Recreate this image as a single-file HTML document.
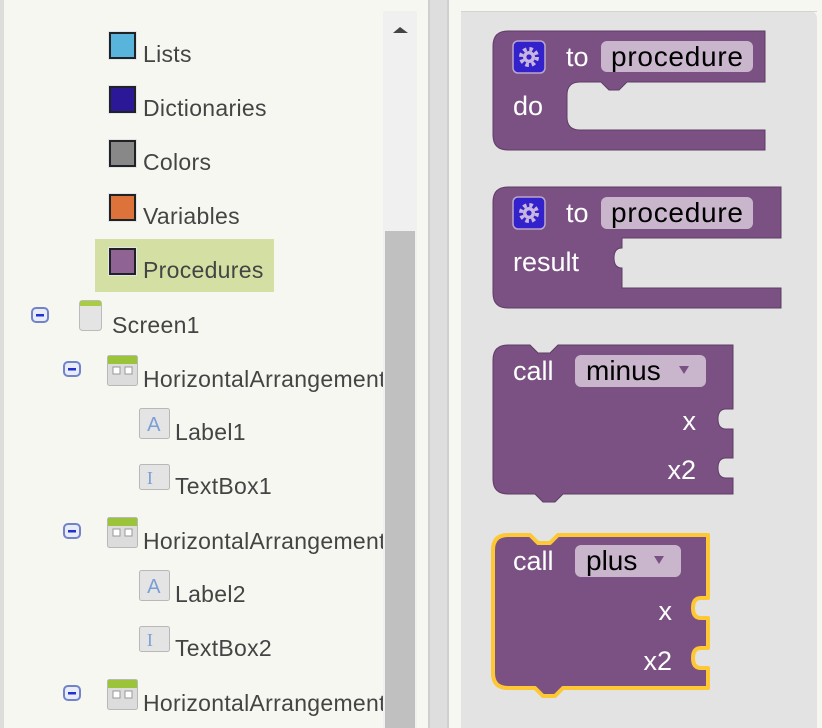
<!DOCTYPE html>
<html><head><meta charset="utf-8">
<style>
html,body{margin:0;padding:0;width:822px;height:728px;overflow:hidden;background:#f7f7f2;}
svg{display:block}
</style></head>
<body>
<svg width="822" height="728" xmlns="http://www.w3.org/2000/svg" font-family="Liberation Sans, Arial, sans-serif">
<defs>
<clipPath id="lc"><rect x="0" y="0" width="383" height="728"/></clipPath>
<g id="gear">
<rect x="0" y="0" width="32" height="32" rx="5" fill="#3322cc" stroke="#b9a6c9" stroke-width="1.5"/>
<circle cx="16" cy="16" r="8" fill="none" stroke="#c9b6e0" stroke-width="4" stroke-dasharray="3.5 2.8"/>
<circle cx="16" cy="16" r="6" fill="#c9b6e0"/>
<circle cx="16" cy="16" r="2.6" fill="#3322cc"/>
</g>
<g id="ha">
<rect x="0.5" y="0.5" width="30" height="30" rx="2" fill="#dcdcdc" stroke="#b8b8b8"/>
<rect x="1" y="1" width="29" height="8" fill="#9cc43a"/>
<rect x="6" y="12" width="7" height="7" fill="#fff" stroke="#999"/>
<rect x="18" y="12" width="7" height="7" fill="#fff" stroke="#999"/>
</g>
<g id="lab">
<rect x="0.5" y="0.5" width="30" height="30" rx="2" fill="#e4e4e4" stroke="#b8b8b8"/>
<text x="15" y="23" font-size="20" fill="#7a9fd6" text-anchor="middle">A</text>
</g>
<g id="tb">
<rect x="0.5" y="0.5" width="30" height="25" rx="2" fill="#e4e4e4" stroke="#b8b8b8"/>
<text x="11" y="20" font-size="18" fill="#7a9fd6" text-anchor="middle" font-family="Liberation Serif, serif">I</text>
</g>
<g id="minus">
<rect x="1" y="1" width="16" height="14" rx="4" fill="#e8ecf8" stroke="#7383c8" stroke-width="2"/>
<rect x="5" y="7" width="8" height="2.5" fill="#2233cc"/>
</g>
</defs>

<rect x="0" y="0" width="428" height="728" fill="#f7f7f2"/>
<rect x="0" y="0" width="4" height="728" fill="#dddddb"/>
<rect x="383" y="11" width="34" height="717" fill="#f0f0f0"/>
<rect x="385" y="231" width="30" height="497" fill="#c0c0c0"/>
<polygon points="400,27 393,33 408,33" fill="#444"/>
<rect x="428" y="0" width="22" height="728" fill="#dedede"/>
<rect x="428" y="0" width="2" height="728" fill="#cfcfcf"/>
<rect x="447" y="0" width="2" height="728" fill="#cfcfcf"/>
<rect x="449" y="0" width="373" height="728" fill="#f7f7f2"/>

<g clip-path="url(#lc)" font-size="23" fill="#444" letter-spacing="0.3">
<rect x="95" y="239" width="179" height="53" fill="#d4e0a3"/>
<rect x="108" y="31" width="29" height="29" fill="#e0e6f0"/><rect x="110" y="33" width="25" height="25" fill="#59b4db" stroke="#222" stroke-width="2"/>
<text x="143" y="62">Lists</text>
<rect x="108" y="85" width="29" height="29" fill="#e0e6f0"/><rect x="110" y="87" width="25" height="25" fill="#2b1897" stroke="#222" stroke-width="2"/>
<text x="143" y="116">Dictionaries</text>
<rect x="108" y="139" width="29" height="29" fill="#e0e6f0"/><rect x="110" y="141" width="25" height="25" fill="#888" stroke="#222" stroke-width="2"/>
<text x="143" y="170">Colors</text>
<rect x="108" y="193" width="29" height="29" fill="#e0e6f0"/><rect x="110" y="195" width="25" height="25" fill="#de723b" stroke="#222" stroke-width="2"/>
<text x="143" y="224">Variables</text>
<rect x="108" y="247" width="29" height="29" fill="#e0e6f0"/><rect x="110" y="249" width="25" height="25" fill="#8f6494" stroke="#222" stroke-width="2"/>
<text x="143" y="278">Procedures</text>

<use href="#minus" x="31" y="307"/>
<rect x="79.5" y="300.5" width="22" height="30" rx="3" fill="#e4e4e4" stroke="#bbb"/>
<rect x="80" y="301" width="21" height="5" fill="#a8cc44"/>
<text x="112" y="333">Screen1</text>

<use href="#minus" x="63" y="361"/>
<use href="#ha" x="107" y="355"/>
<text x="143" y="387">HorizontalArrangement1</text>
<use href="#lab" x="139" y="408"/>
<text x="175" y="440">Label1</text>
<use href="#tb" x="139" y="464"/>
<text x="175" y="494">TextBox1</text>

<use href="#minus" x="63" y="523"/>
<use href="#ha" x="107" y="517"/>
<text x="143" y="549">HorizontalArrangement2</text>
<use href="#lab" x="139" y="570"/>
<text x="175" y="602">Label2</text>
<use href="#tb" x="139" y="626"/>
<text x="175" y="656">TextBox2</text>

<use href="#minus" x="63" y="685"/>
<use href="#ha" x="107" y="679"/>
<text x="143" y="711">HorizontalArrangement3</text>
</g>

<path d="M461,11 H809 q8,0 8,8 V728 H461 Z" fill="#e3e3e3"/>
<rect x="461" y="11" width="356" height="1" fill="#d4d4d4"/>

<path d="M493,46 q0,-15 15,-15 H765 V82 H627 l-8,8 h-10 l-8,-8 H580 q-13,0 -13,13 V117 q0,13 13,13 H765 V150 H508 q-15,0 -15,-15 Z" fill="#7b5183" stroke="#5f3d66" stroke-width="1"/>
<use href="#gear" x="513" y="41"/>
<text x="566" y="66" font-size="27" fill="#fff">to</text>
<rect x="601" y="41" width="152" height="31" rx="6" fill="#c9b6cc"/>
<text x="611" y="66" font-size="28" fill="#000" textLength="132">procedure</text>
<text x="513" y="115" font-size="27" fill="#fff">do</text>

<path d="M493,202 q0,-15 15,-15 H781 V238 H622 v10 q-8,0 -8,10 q0,10 8,10 v20 H781 V308 H508 q-15,0 -15,-15 Z" fill="#7b5183" stroke="#5f3d66" stroke-width="1"/>
<use href="#gear" x="513" y="197"/>
<text x="566" y="222" font-size="27" fill="#fff">to</text>
<rect x="601" y="197" width="152" height="32" rx="6" fill="#c9b6cc"/>
<text x="611" y="222" font-size="28" fill="#000" textLength="132">procedure</text>
<text x="513" y="271" font-size="27" fill="#fff">result</text>

<path d="M493,360 q0,-15 15,-15 h22 l8,8 h12 l8,-8 H733 V409 H726 q-8,0 -8,10 q0,10 8,10 H733 V458 H726 q-8,0 -8,10 q0,10 8,10 H733 V494 H563 l-8,8 h-12 l-8,-8 H508 q-15,0 -15,-15 Z" fill="#7b5183" stroke="#5f3d66" stroke-width="1"/>
<text x="513" y="380" font-size="27" fill="#fff">call</text>
<rect x="575" y="355" width="131" height="32" rx="6" fill="#c9b6cc"/>
<text x="586" y="380" font-size="28" fill="#000">minus</text>
<polygon points="679,366 689,366 684,374" fill="#7b5183"/>
<text x="696" y="430" font-size="27" fill="#fff" text-anchor="end">x</text>
<text x="696" y="479" font-size="27" fill="#fff" text-anchor="end">x2</text>

<path d="M493,550 q0,-15 15,-15 h22 l8,8 h12 l8,-8 H708 V598 H701 q-8,0 -8,10 q0,10 8,10 H708 V648 H701 q-8,0 -8,10 q0,10 8,10 H708 V688 H563 l-8,8 h-12 l-8,-8 H508 q-15,0 -15,-15 Z" fill="#7b5183" stroke="#fdc833" stroke-width="4" stroke-linejoin="round"/>
<text x="513" y="570" font-size="27" fill="#fff">call</text>
<rect x="575" y="545" width="106" height="32" rx="6" fill="#c9b6cc"/>
<text x="586" y="570" font-size="28" fill="#000">plus</text>
<polygon points="654,556 664,556 659,564" fill="#7b5183"/>
<text x="672" y="620" font-size="27" fill="#fff" text-anchor="end">x</text>
<text x="672" y="670" font-size="27" fill="#fff" text-anchor="end">x2</text>
</svg>
</body></html>
